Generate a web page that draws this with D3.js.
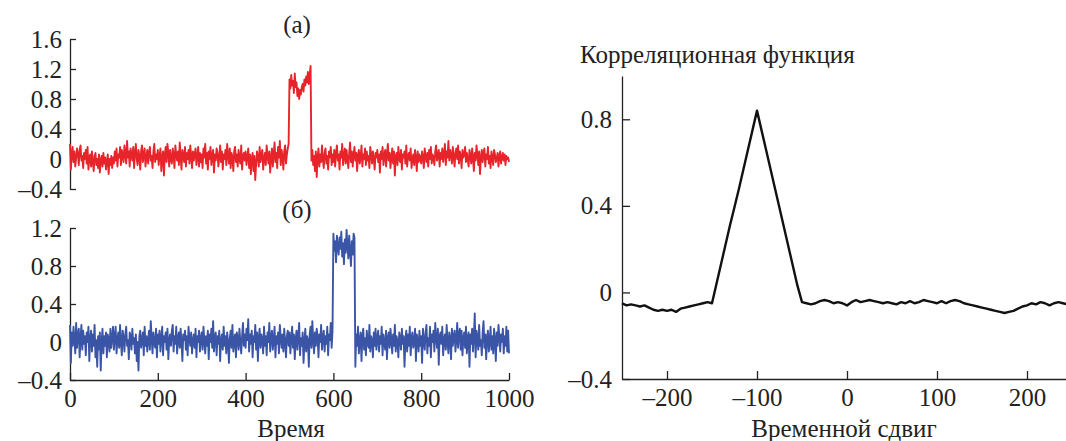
<!DOCTYPE html>
<html>
<head>
<meta charset="utf-8">
<script src="https://cdn.jsdelivr.net/npm/d3@7"></script>
<style>
  body { margin: 0; background: #fff; }
  .axis path, .axis line { stroke: #222; stroke-width: 1.3; }
</style>
</head>
<body>
<script>
// sample step of both signals (time units)
var timeStep = 2;

// signal (a), red, t = 0, 2, ... 1000 (10 samples per line)
var signalA = [
  0.20, -0.14, 0.08, 0.16, -0.04, 0.10, -0.10, 0.02, 0.14, 0.06,
  -0.08, 0.12, 0.18, -0.02, 0.04, -0.12, 0.08, 0.00, 0.12, -0.06,
  0.16, -0.14, 0.02, 0.06, -0.10, 0.10, -0.04, -0.16, 0.04, 0.08,
  -0.08, 0.00, -0.12, 0.06, -0.18, -0.02, 0.04, -0.10, 0.08, -0.06,
  0.02, -0.14, -0.04, 0.06, -0.20, 0.00, -0.08, 0.04, -0.12, 0.02,
  -0.06, 0.10, -0.02, 0.14, -0.10, 0.06, 0.02, 0.16, -0.08, 0.12,
  0.04, -0.04, 0.18, 0.08, -0.06, 0.24, 0.02, 0.10, -0.10, 0.14,
  0.06, -0.02, 0.16, -0.12, 0.08, 0.20, 0.00, -0.08, 0.12, 0.04,
  -0.14, 0.10, 0.18, -0.04, 0.06, 0.14, -0.10, 0.02, 0.12, -0.06,
  0.08, 0.16, -0.02, 0.04, -0.12, 0.10, 0.20, -0.04, 0.06, 0.00,
  0.12, -0.08, 0.04, 0.14, -0.16, 0.02, 0.10, -0.22, 0.06, 0.16,
  -0.04, 0.20, 0.08, -0.10, 0.12, 0.00, -0.06, 0.14, 0.04, -0.12,
  0.18, 0.06, -0.02, 0.10, -0.08, 0.22, 0.02, -0.14, 0.12, 0.06,
  -0.04, 0.16, -0.10, 0.08, 0.00, 0.12, -0.06, 0.18, 0.04, -0.12,
  0.10, -0.02, 0.06, 0.14, -0.08, 0.02, 0.16, -0.10, 0.08, -0.04,
  0.06, -0.12, 0.14, 0.02, 0.20, -0.06, 0.08, -0.14, 0.10, 0.00,
  0.16, -0.08, 0.04, 0.12, -0.18, 0.06, -0.02, 0.14, 0.08, -0.10,
  0.02, 0.18, -0.04, 0.10, -0.14, 0.06, 0.00, 0.12, -0.08, 0.20,
  0.04, -0.06, 0.14, -0.12, 0.08, 0.02, -0.16, 0.10, 0.16, -0.04,
  0.06, -0.10, 0.12, 0.00, -0.06, 0.18, -0.14, 0.04, 0.08, -0.02,
  0.10, -0.08, 0.02, 0.14, -0.12, 0.06, -0.20, 0.00, 0.08, -0.16,
  0.04, -0.28, -0.06, 0.10, 0.02, -0.10, 0.16, -0.04, 0.06, 0.12,
  -0.14, 0.00, 0.08, -0.08, 0.18, 0.04, -0.06, 0.10, -0.18, 0.02,
  0.14, -0.10, 0.06, 0.22, -0.04, 0.08, -0.12, 0.16, 0.02, 0.24,
  -0.08, 0.12, 0.04, -0.14, 0.10, 0.18, -0.06, 0.06, 0.14, 0.20,
  1.06, 0.94, 1.12, 0.98, 1.04, 0.88, 1.14, 0.96, 1.02, 0.84,
  0.94, 0.80, 0.92, 0.86, 0.96, 1.00, 0.90, 1.06, 0.98, 1.10,
  1.02, 1.16, 1.00, 1.12, 1.24, -0.02, 0.12, -0.08, 0.04, -0.16,
  0.10, -0.24, 0.02, 0.14, -0.10, 0.06, -0.04, 0.18, 0.00, -0.12,
  0.08, 0.14, -0.06, 0.04, -0.14, 0.10, 0.02, 0.16, -0.08, 0.06,
  -0.04, 0.12, -0.10, 0.08, 0.18, -0.02, 0.06, -0.14, 0.10, 0.02,
  0.20, -0.08, 0.04, 0.14, -0.06, 0.12, 0.00, -0.12, 0.08, 0.22,
  -0.04, 0.10, -0.10, 0.06, 0.16, -0.02, 0.08, -0.16, 0.04, 0.12,
  -0.06, 0.02, 0.18, -0.10, 0.06, 0.00, 0.14, -0.08, 0.10, -0.02,
  0.04, -0.12, 0.16, 0.06, -0.06, 0.10, 0.00, -0.14, 0.08, 0.02,
  0.12, -0.04, 0.06, -0.18, 0.10, 0.00, 0.16, -0.08, 0.04, 0.12,
  -0.10, 0.06, 0.20, -0.02, 0.08, -0.12, 0.02, 0.14, -0.06, 0.10,
  -0.22, 0.04, 0.08, -0.08, 0.16, 0.00, -0.04, 0.12, -0.14, 0.06,
  0.02, 0.10, -0.06, 0.18, -0.10, 0.04, 0.08, -0.02, 0.14, -0.12,
  0.00, 0.06, -0.08, 0.12, 0.02, -0.16, 0.10, -0.04, 0.06, 0.00,
  -0.06, 0.10, 0.02, -0.12, 0.14, 0.04, -0.04, 0.08, -0.10, 0.12,
  0.00, 0.16, -0.06, 0.06, 0.02, -0.08, 0.10, 0.18, -0.02, 0.04,
  0.12, -0.10, 0.08, 0.00, 0.14, -0.04, 0.06, 0.20, -0.08, 0.10,
  0.02, 0.24, -0.02, 0.12, 0.06, -0.06, 0.16, 0.04, -0.10, 0.08,
  0.14, 0.00, 0.18, -0.06, 0.10, 0.04, -0.12, 0.12, 0.02, 0.06,
  0.16, -0.04, 0.08, 0.00, -0.10, 0.12, 0.04, -0.06, 0.14, 0.02,
  -0.16, 0.08, -0.02, 0.18, 0.06, -0.08, 0.10, -0.20, 0.02, 0.12,
  -0.04, 0.08, 0.14, -0.10, 0.06, 0.00, 0.16, -0.06, 0.04, -0.12,
  0.10, 0.02, -0.08, 0.12, 0.06, -0.04, 0.00, 0.08, -0.10, 0.04,
  0.10, -0.06, 0.02, 0.08, -0.02, 0.06, -0.08, 0.04, 0.00, 0.02,
  -0.04
];

// signal (б), blue, t = 0, 2, ... 1000 (10 samples per line)
var signalB = [
  0.18, -0.22, 0.10, -0.04, 0.16, 0.02, -0.12, 0.20, -0.06, 0.08,
  0.14, -0.16, 0.04, 0.18, -0.08, 0.12, -0.02, 0.06, -0.14, 0.10,
  0.00, 0.16, -0.20, 0.04, 0.12, -0.10, 0.08, -0.04, 0.18, -0.16,
  0.02, -0.26, 0.06, -0.08, 0.10, -0.30, 0.00, 0.14, -0.12, 0.06,
  -0.04, 0.10, -0.16, 0.08, 0.02, -0.10, 0.14, -0.06, 0.04, 0.16,
  -0.08, 0.06, 0.16, -0.12, 0.02, 0.10, -0.06, 0.18, 0.00, -0.14,
  0.12, 0.04, -0.10, 0.08, 0.16, -0.04, 0.02, -0.18, 0.10, 0.06,
  -0.08, 0.14, -0.02, 0.04, -0.12, 0.08, -0.20, 0.00, -0.30, 0.06,
  0.12, -0.06, 0.02, 0.10, -0.14, 0.16, -0.04, 0.06, -0.10, 0.02,
  0.12, -0.08, 0.22, 0.04, -0.12, 0.10, 0.00, -0.06, 0.14, -0.16,
  0.08, -0.02, 0.12, -0.10, 0.04, 0.16, -0.14, 0.06, 0.00, 0.10,
  -0.08, 0.14, -0.18, 0.02, 0.08, -0.04, 0.12, 0.18, -0.10, 0.06,
  -0.02, 0.16, -0.12, 0.04, 0.10, -0.06, 0.14, 0.00, -0.20, 0.08,
  0.02, 0.12, -0.08, 0.06, -0.14, 0.16, 0.04, -0.04, 0.10, -0.12,
  0.02, 0.08, -0.06, 0.14, -0.16, 0.06, 0.00, 0.12, -0.10, 0.04,
  0.10, -0.08, 0.16, 0.02, -0.12, 0.06, -0.04, 0.12, -0.18, 0.08,
  0.00, 0.14, -0.06, 0.22, -0.10, 0.04, 0.10, -0.14, 0.06, -0.02,
  0.12, -0.20, 0.02, 0.08, -0.08, 0.16, -0.04, 0.06, -0.12, 0.10,
  0.00, -0.22, 0.04, 0.12, -0.06, 0.18, -0.10, 0.02, 0.08, -0.16,
  0.10, 0.04, -0.08, 0.14, 0.00, -0.12, 0.06, 0.20, -0.04, 0.08,
  -0.06, 0.14, 0.02, 0.24, -0.10, 0.08, -0.02, 0.12, -0.16, 0.06,
  0.00, 0.18, -0.08, 0.10, -0.20, 0.04, 0.14, -0.06, 0.08, 0.02,
  -0.12, 0.16, -0.04, 0.06, -0.14, 0.10, 0.00, 0.20, -0.10, 0.04,
  0.12, -0.08, 0.02, 0.16, -0.16, 0.06, -0.02, 0.10, -0.12, 0.18,
  0.04, -0.06, 0.08, -0.10, 0.14, 0.00, -0.16, 0.06, 0.12, -0.04,
  0.10, -0.12, 0.04, 0.16, -0.06, 0.08, -0.18, 0.02, 0.12, -0.08,
  0.06, 0.20, -0.14, 0.04, -0.04, 0.10, -0.22, 0.00, 0.14, -0.10,
  0.06, 0.02, -0.26, 0.08, 0.16, -0.06, 0.22, 0.02, -0.12, 0.10,
  -0.04, 0.14, 0.06, -0.16, 0.08, 0.00, 0.18, -0.08, 0.04, 0.12,
  -0.10, 0.06, -0.02, 0.16, -0.14, 0.08, 0.02, 0.20, -0.06, 0.12,
  1.14, 0.96, 1.06, 0.84, 1.12, 1.00, 0.92, 1.10, 0.98, 1.16,
  0.90, 1.04, 0.82, 1.08, 0.94, 1.18, 1.02, 0.88, 1.12, 0.96,
  0.80, 1.06, 0.92, 1.14, 1.10, -0.26, 0.08, -0.04, 0.16, -0.12,
  0.02, 0.10, -0.20, 0.06, 0.14, -0.08, 0.04, -0.14, 0.12, 0.00,
  -0.06, 0.18, -0.10, 0.06, 0.02, -0.16, 0.10, -0.04, 0.14, -0.08,
  0.04, 0.12, -0.10, 0.06, -0.02, 0.16, -0.14, 0.08, 0.00, -0.08,
  0.12, -0.18, 0.04, 0.10, -0.06, 0.14, 0.02, -0.12, 0.08, -0.04,
  0.18, -0.10, 0.06, 0.00, -0.16, 0.10, 0.04, -0.08, 0.14, -0.02,
  0.06, -0.26, 0.02, 0.12, -0.10, 0.08, -0.04, 0.16, -0.14, 0.04,
  0.10, -0.06, 0.00, 0.14, -0.20, 0.08, 0.02, -0.10, 0.12, -0.04,
  0.06, -0.22, 0.14, 0.02, -0.08, 0.10, 0.18, -0.12, 0.04, -0.04,
  0.16, -0.16, 0.08, 0.00, 0.12, -0.10, 0.20, 0.04, -0.06, 0.14,
  -0.24, 0.06, 0.10, -0.02, 0.16, -0.14, 0.02, 0.08, -0.08, 0.18,
  0.00, -0.12, 0.10, 0.04, -0.18, 0.14, -0.04, 0.06, 0.12, -0.10,
  0.02, 0.20, -0.06, 0.08, 0.14, -0.08, 0.12, -0.14, 0.04, 0.10,
  -0.06, 0.16, -0.12, 0.04, 0.10, -0.26, 0.08, -0.02, 0.14, -0.10,
  0.06, 0.30, -0.16, 0.12, 0.04, -0.08, 0.18, -0.04, 0.02, -0.14,
  0.10, 0.22, -0.06, 0.08, -0.18, 0.04, 0.12, -0.10, 0.00, 0.16,
  -0.08, 0.06, -0.12, 0.14, 0.02, -0.20, 0.10, -0.04, 0.18, 0.06,
  -0.10, 0.08, 0.00, 0.14, -0.12, 0.06, -0.04, 0.16, -0.10, 0.12,
  -0.12
];

// correlation function, shift = -250, -245, ... 250
var corrStep = 5;
var corrStart = -250;
var corrValues = [
  -0.050, -0.060, -0.055, -0.060, -0.065, -0.060, -0.070, -0.080, -0.085, -0.080,
  -0.085, -0.080, -0.090, -0.075, -0.070, -0.065, -0.060, -0.055, -0.050, -0.045,
  -0.050, 0.040, 0.130, 0.220, 0.310, 0.395, 0.480, 0.570, 0.660, 0.750,
  0.840, 0.750, 0.660, 0.570, 0.480, 0.390, 0.300, 0.210, 0.120, 0.030,
  -0.045, -0.050, -0.055, -0.050, -0.040, -0.035, -0.040, -0.050, -0.045, -0.050,
  -0.060, -0.045, -0.035, -0.045, -0.040, -0.035, -0.040, -0.045, -0.050, -0.045,
  -0.050, -0.055, -0.045, -0.050, -0.040, -0.050, -0.045, -0.035, -0.040, -0.045,
  -0.050, -0.040, -0.050, -0.040, -0.035, -0.040, -0.050, -0.055, -0.060, -0.065,
  -0.070, -0.075, -0.080, -0.085, -0.090, -0.095, -0.090, -0.085, -0.075, -0.065,
  -0.060, -0.050, -0.055, -0.045, -0.050, -0.060, -0.050, -0.045, -0.050, -0.055,
  -0.050
];

var ticksA = [-0.4, 0, 0.4, 0.8, 1.2, 1.6];
var ticksB = [-0.4, 0, 0.4, 0.8, 1.2];
var ticksTime = [0, 200, 400, 600, 800, 1000];
var ticksCorrY = [-0.4, 0, 0.4, 0.8];
var ticksShift = [-200, -100, 0, 100, 200];

var w = 1066, h = 441;
var fs = 25;
var ff = '"Times New Roman", "Liberation Serif", Tinos, "DejaVu Serif", "Noto Serif", serif';

var svg = d3.select("body").append("svg")
    .attr("width", w)
    .attr("height", h)
    .attr("font-family", ff);

function fmt(d) {
    return d === 0 ? "0" : d3.format(".1f")(d).replace("-", "\u2013").replace("\u2212", "\u2013");
}
function fmtInt(d) {
    return String(d).replace("-", "\u2013");
}
function styleText(sel) {
    sel.selectAll("text").style("font-family", ff).style("font-size", fs + "px").attr("fill", "#222");
}

var x = d3.scaleLinear().domain([0, 1000]).range([70, 509]);

// panel (a)
var yA = d3.scaleLinear().domain([-0.4, 1.6]).range([189, 39]);
var gA = svg.append("g").attr("class", "axis").attr("transform", "translate(70,0)")
    .call(d3.axisLeft(yA).tickValues(ticksA).tickFormat(fmt).tickSizeInner(-6).tickSizeOuter(0).tickPadding(8));
styleText(gA);

svg.append("path")
    .datum(signalA)
    .attr("fill", "none")
    .attr("stroke", "#e8242b")
    .attr("stroke-width", 1.9)
    .attr("stroke-linejoin", "round")
    .attr("d", d3.line().x(function (d, i) { return x(i * timeStep); }).y(function (d) { return yA(d); }));

// panel (б)
var yB = d3.scaleLinear().domain([-0.4, 1.2]).range([380, 228]);
var gB = svg.append("g").attr("class", "axis").attr("transform", "translate(70,0)")
    .call(d3.axisLeft(yB).tickValues(ticksB).tickFormat(fmt).tickSizeInner(-6).tickSizeOuter(0).tickPadding(8));
styleText(gB);

var gX = svg.append("g").attr("class", "axis").attr("transform", "translate(0,380)")
    .call(d3.axisBottom(x).tickValues(ticksTime).tickFormat(fmtInt).tickSizeInner(-7).tickSizeOuter(0).tickPadding(9));
styleText(gX);

svg.append("path")
    .datum(signalB)
    .attr("fill", "none")
    .attr("stroke", "#3b55a6")
    .attr("stroke-width", 1.9)
    .attr("stroke-linejoin", "round")
    .attr("d", d3.line().x(function (d, i) { return x(i * timeStep); }).y(function (d) { return yB(d); }));

// correlation panel
var xC = d3.scaleLinear().domain([-250, 250]).range([622, 1072]);
var yC = d3.scaleLinear().domain([-0.4, 1.0]).range([379, 76]);

var gCy = svg.append("g").attr("class", "axis").attr("transform", "translate(622,0)")
    .call(d3.axisLeft(yC).tickValues(ticksCorrY).tickFormat(fmt).tickSizeInner(-8).tickSizeOuter(0).tickPadding(10));
styleText(gCy);

var gCx = svg.append("g").attr("class", "axis").attr("transform", "translate(0,379)")
    .call(d3.axisBottom(xC).tickValues(ticksShift).tickFormat(fmtInt).tickSizeInner(-8).tickSizeOuter(0).tickPadding(9));
styleText(gCx);

svg.append("path")
    .datum(corrValues)
    .attr("fill", "none")
    .attr("stroke", "#111")
    .attr("stroke-width", 2.4)
    .attr("stroke-linejoin", "round")
    .attr("d", d3.line().x(function (d, i) { return xC(corrStart + i * corrStep); }).y(function (d) { return yC(d); }));

// titles and axis labels
var labels = svg.append("g");
labels.append("text").attr("x", 297).attr("y", 33).attr("text-anchor", "middle").text("(a)");
labels.append("text").attr("x", 297).attr("y", 218).attr("text-anchor", "middle").text("(б)");
labels.append("text").attr("x", 291).attr("y", 437).attr("text-anchor", "middle").text("Время");
labels.append("text").attr("x", 580).attr("y", 63).text("Корреляционная функция");
labels.append("text").attr("x", 844).attr("y", 437).attr("text-anchor", "middle").text("Временной сдвиг");
styleText(labels);
</script>
</body>
</html>
